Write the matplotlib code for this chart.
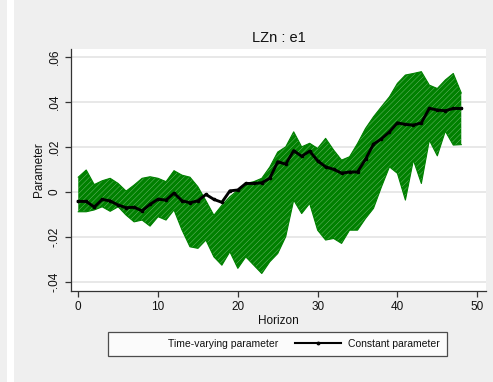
import matplotlib
matplotlib.use("Agg")
import matplotlib.pyplot as plt
from matplotlib.lines import Line2D

# ---- data ----
horizon = list(range(49))

constant_param = [-0.0043, -0.0043, -0.0068, -0.0034, -0.0041, -0.0059, -0.0071, -0.0069,
                  -0.0085, -0.0056, -0.0033, -0.0037, -0.0006, -0.0040, -0.0049, -0.0040,
                  -0.0012, -0.0034, -0.0047, 0.0004, 0.0008, 0.0037, 0.0037, 0.0040,
                  0.0060, 0.0134, 0.0123, 0.0183, 0.0158, 0.0181, 0.0138, 0.0111,
                  0.0100, 0.0083, 0.0088, 0.0088, 0.0145, 0.0212, 0.0236, 0.0267,
                  0.0307, 0.0300, 0.0297, 0.0307, 0.0372, 0.0364, 0.0361, 0.0371, 0.0371]

tv_upper = [0.0065, 0.0097, 0.0032, 0.0049, 0.0060, 0.0037, 0.0003, 0.0030,
            0.0060, 0.0067, 0.0060, 0.0045, 0.0094, 0.0074, 0.0065, 0.0022,
            -0.0040, -0.0105, -0.0060, -0.0022, 0.0007, 0.0037, 0.0045, 0.0060,
            0.0110, 0.0177, 0.0200, 0.0267, 0.0200, 0.0216, 0.0193, 0.0238,
            0.0186, 0.0141, 0.0156, 0.0215, 0.0282, 0.0334, 0.0379, 0.0423,
            0.0483, 0.0520, 0.0527, 0.0535, 0.0475, 0.0460, 0.0498, 0.0527, 0.0440]

tv_lower = [-0.0089, -0.0089, -0.0081, -0.0067, -0.0087, -0.0067, -0.0104, -0.0134,
            -0.0126, -0.0153, -0.0111, -0.0126, -0.0081, -0.0170, -0.0245, -0.0252,
            -0.0215, -0.0290, -0.0327, -0.0267, -0.0341, -0.0290, -0.0327, -0.0364,
            -0.0312, -0.0275, -0.0200, -0.0037, -0.0097, -0.0052, -0.0171, -0.0215,
            -0.0208, -0.0230, -0.0171, -0.0171, -0.0119, -0.0074, 0.0022, 0.0111,
            0.0082, -0.0037, 0.0141, 0.0037, 0.0230, 0.0160, 0.0270, 0.0208, 0.0210]

xticks = [0, 10, 20, 30, 40, 50]
yticks = [-0.04, -0.02, 0.0, 0.02, 0.04, 0.06]
yticklabels = ["-.04", "-.02", "0", ".02", ".04", ".06"]

title = "LZn : e1"
xlabel = "Horizon"
ylabel = "Parameter"
legend_labels = ["Time-varying parameter", "Constant parameter"]

# ---- styling ----
plt.rcParams['font.family'] = ['Liberation Sans', 'DejaVu Sans']
plt.rcParams['hatch.linewidth'] = 0.3

BG = "#efefef"
GREEN = "#008000"
TXT = "#111111"

fig = plt.figure(figsize=(4.93, 3.82), dpi=100, facecolor=BG)
# white vertical strip on the left edge
fig.patches.append(plt.Rectangle((7 / 493, 0), 7 / 493, 1, transform=fig.transFigure,
                                 facecolor="white", edgecolor="none", zorder=0))

ax = fig.add_axes([71 / 493, 1 - 291 / 382, (486 - 71) / 493, (291 - 49) / 382])
ax.set_facecolor("white")

ax.set_xlim(-0.91, 51.1)
ax.set_ylim(-0.0442, 0.0636)

for y in yticks:
    ax.axhline(y, color="#e6e6e6", lw=1.3, zorder=0)

ax.fill_between(horizon, tv_lower, tv_upper, facecolor=GREEN, edgecolor="#7cc07c",
                hatch="//////", linewidth=0, zorder=2)
ax.plot(horizon, tv_upper, color=GREEN, lw=0.8, zorder=2)
ax.plot(horizon, tv_lower, color=GREEN, lw=0.8, zorder=2)

ax.plot(horizon, constant_param, color="black", lw=2.1, marker="o", markersize=1.6,
        zorder=3)

for s in ["top", "right"]:
    ax.spines[s].set_visible(False)
for s in ["left", "bottom"]:
    ax.spines[s].set_color("#333333")
    ax.spines[s].set_linewidth(0.9)

ax.set_xticks(xticks)
ax.set_xticklabels([str(t) for t in xticks])
ax.set_yticks(yticks)
ax.set_yticklabels(yticklabels, rotation=90, va="center")
ax.tick_params(axis="both", direction="out", length=4.5, width=0.9, color="#333333",
               labelsize=8.5, labelcolor=TXT, pad=3)

ax.set_title(title, fontsize=10.5, color=TXT, pad=5)
ax.set_xlabel(xlabel, fontsize=8.5, color=TXT, labelpad=1.5)
ax.set_ylabel(ylabel, fontsize=8.5, color=TXT, labelpad=2.5)

handles = [Line2D([], [], color="none"),
           Line2D([], [], color="black", lw=1.5, marker="o", markersize=1.8)]
leg = fig.legend(handles, legend_labels, loc="center", ncol=2,
                 bbox_to_anchor=(277.5 / 493, 1 - 344 / 382), fontsize=7.5,
                 frameon=True, fancybox=False, edgecolor="#222222",
                 handlelength=4.4, handletextpad=0.67, columnspacing=1.6,
                 borderpad=0.66, borderaxespad=0)
leg.get_frame().set_linewidth(0.9)
leg.get_frame().set_facecolor("white")
for t in leg.get_texts():
    t.set_color(TXT)

fig.savefig("out.png", dpi=100, facecolor=BG)
